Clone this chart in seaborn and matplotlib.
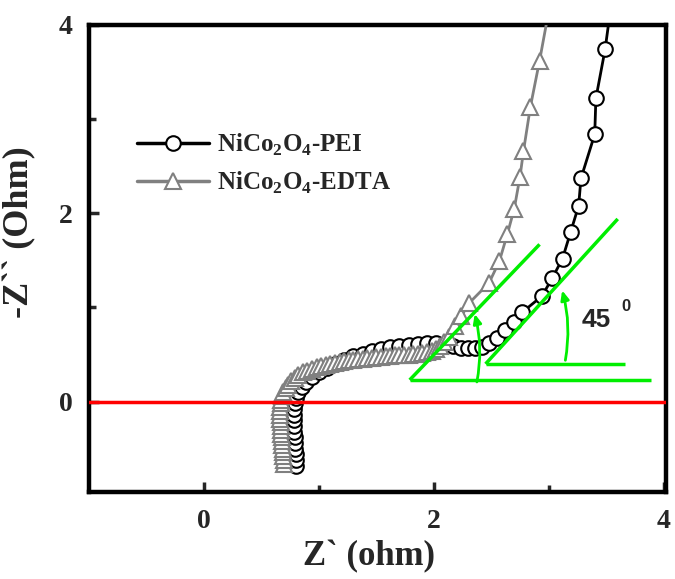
import matplotlib
matplotlib.use("Agg")
import matplotlib.pyplot as plt
from matplotlib.patches import FancyArrowPatch
from matplotlib.lines import Line2D
import seaborn as sns

# ---- data ----
pei_x = [0.80, 0.80, 0.80, 0.79, 0.79, 0.79, 0.78, 0.78, 0.78, 0.78,
         0.78, 0.79, 0.80, 0.82, 0.85, 0.89, 0.94, 1.00, 1.07, 1.14,
         1.22, 1.30, 1.38, 1.46, 1.54, 1.62, 1.70, 1.78, 1.86, 1.94,
         2.02, 2.10, 2.17, 2.24, 2.30, 2.36, 2.42, 2.48, 2.55, 2.62,
         2.70, 2.77, 2.94, 3.03, 3.12, 3.19, 3.26, 3.28, 3.40, 3.41,
         3.49, 3.53]
pei_y = [-0.68, -0.62, -0.56, -0.50, -0.44, -0.38, -0.32, -0.26, -0.20, -0.14,
         -0.08, -0.02, 0.04, 0.10, 0.16, 0.21, 0.26, 0.31, 0.36, 0.40,
         0.44, 0.48, 0.51, 0.54, 0.56, 0.58, 0.59, 0.60, 0.61, 0.62,
         0.62, 0.61, 0.59, 0.57, 0.57, 0.57, 0.58, 0.62, 0.68, 0.76,
         0.85, 0.95, 1.12, 1.31, 1.52, 1.80, 2.08, 2.37, 2.84, 3.22,
         3.74, 4.10]
edta_x = [0.70, 0.70, 0.69, 0.69, 0.69, 0.68, 0.68, 0.68, 0.67, 0.67,
          0.67, 0.67, 0.66, 0.66, 0.66, 0.66, 0.67, 0.67, 0.68, 0.69,
          0.71, 0.73, 0.76, 0.79, 0.82, 0.86, 0.90, 0.94, 0.98, 1.02,
          1.06, 1.10, 1.14, 1.18, 1.22, 1.26, 1.30, 1.34, 1.38, 1.42,
          1.46, 1.50, 1.54, 1.58, 1.62, 1.66, 1.70, 1.74, 1.78, 1.82,
          1.86, 1.90, 1.94, 1.98, 2.02, 2.05, 2.09, 2.13, 2.18, 2.24,
          2.31, 2.48, 2.57, 2.64, 2.70, 2.75, 2.78, 2.84, 2.92, 3.00]
edta_y = [-0.66, -0.62, -0.58, -0.54, -0.50, -0.46, -0.42, -0.38, -0.34, -0.30,
          -0.26, -0.22, -0.18, -0.14, -0.10, -0.06, -0.02, 0.02, 0.06, 0.10,
          0.14, 0.18, 0.22, 0.25, 0.28, 0.31, 0.33, 0.35, 0.37, 0.38,
          0.39, 0.40, 0.41, 0.42, 0.43, 0.44, 0.44, 0.45, 0.45, 0.46,
          0.46, 0.47, 0.47, 0.48, 0.48, 0.49, 0.49, 0.50, 0.50, 0.51,
          0.51, 0.52, 0.53, 0.54, 0.56, 0.59, 0.63, 0.69, 0.80, 0.91,
          1.05, 1.26, 1.49, 1.78, 2.05, 2.39, 2.66, 3.13, 3.62, 4.15]

series_labels = ["NiCo$_\\mathregular{2}$O$_\\mathregular{4}$-PEI",
                 "NiCo$_\\mathregular{2}$O$_\\mathregular{4}$-EDTA"]
x_ticks = [0, 2, 4]
y_ticks = [0, 2, 4]
x_minor = [1, 3]
y_minor = [1, 3]

# 45-degree guide lines (annotation)
guide1_x = [1.79, 2.92]; guide1_y = [0.23, 1.67]
base1_x = [1.79, 3.89];  base1_y = [0.23, 0.23]
guide2_x = [2.45, 3.60]; guide2_y = [0.40, 1.94]
base2_x = [2.45, 3.66];  base2_y = [0.40, 0.40]
arc1 = [(2.37, 0.18), (2.35, 0.96)]
arc2 = [(3.14, 0.41), (3.11, 1.21)]

sns.set_style("ticks")
plt.rcParams["font.family"] = ["Liberation Serif", "DejaVu Serif"]
plt.rcParams["font.weight"] = "bold"

fig = plt.figure(figsize=(6.75, 5.79), dpi=100)
ax = fig.add_axes([89/675, 1-492/579, (666-89)/675, (492-25)/579])

sns.lineplot(x=pei_x, y=pei_y, sort=False, estimator=None, ax=ax,
             color="black", linewidth=2, marker="o", markersize=10.5,
             markerfacecolor="white", markeredgecolor="black",
             markeredgewidth=1.5, zorder=3)
sns.lineplot(x=edta_x, y=edta_y, sort=False, estimator=None, ax=ax,
             color="#808080", linewidth=2, marker="^", markersize=11.5,
             markerfacecolor="white", markeredgecolor="#808080",
             markeredgewidth=1.5, zorder=4)

ax.axhline(0, color="#ff0000", linewidth=2.5, zorder=6)

g = "#00ee00"
for xs, ys in [(guide1_x, guide1_y), (base1_x, base1_y),
               (guide2_x, guide2_y), (base2_x, base2_y)]:
    ax.plot(xs, ys, color=g, linewidth=2.5, zorder=7, solid_capstyle="butt")
for (p0, p1) in [arc1, arc2]:
    arr = FancyArrowPatch(p0, p1, connectionstyle="arc3,rad=0.12",
                          arrowstyle="-|>,head_length=0.5,head_width=0.22",
                          mutation_scale=11, color=g, linewidth=2.0, zorder=7)
    ax.add_patch(arr)

ax.text(3.41, 0.87, "45", fontsize=19, fontweight="bold",
        family=["Liberation Sans", "DejaVu Sans"], ha="center", va="center", zorder=8)
ax.text(3.67, 1.01, "0", fontsize=12, fontweight="bold",
        family=["Liberation Sans", "DejaVu Sans"], ha="center", va="center", zorder=8)

ax.set_xlim(-1.0, 4.02)
ax.set_ylim(-0.96, 4.0)
ax.set_xticks(x_ticks)
ax.set_yticks(y_ticks)
ax.set_xticks(x_minor, minor=True)
ax.set_yticks(y_minor, minor=True)
ax.tick_params(which="both", direction="in", width=2.5, labelsize=20,
               top=False, right=False)
ax.tick_params(which="major", length=7, pad=12)
ax.tick_params(which="minor", length=5)
for lab in ax.get_xticklabels() + ax.get_yticklabels():
    lab.set_fontweight("bold")
for sp in ax.spines.values():
    sp.set_linewidth(3.2)
    sp.set_color("black")

ax.set_xlabel("Z` (ohm)", fontsize=25, fontweight="bold")
ax.xaxis.set_label_coords(0.485, -0.103, transform=ax.transAxes)
ax.xaxis.label.set_va("top")
ax.set_ylabel("-Z`` (Ohm)", fontsize=26, fontweight="bold")
ax.yaxis.set_label_coords(-0.092, 0.557)

handles = [Line2D([], [], color="black", linewidth=2.5, marker="o", markersize=10.5,
                  markerfacecolor="white", markeredgecolor="black", markeredgewidth=1.5),
           Line2D([], [], color="#808080", linewidth=2.5, marker="^", markersize=11.5,
                  markerfacecolor="white", markeredgecolor="#808080", markeredgewidth=1.5)]
leg = ax.legend(handles, series_labels, loc="upper left",
                bbox_to_anchor=(0.083, 0.772), frameon=False, borderpad=0,
                borderaxespad=0,
                prop={"family": ["Liberation Serif"], "weight": "bold", "size": 18},
                handlelength=2.9, handletextpad=0.3, labelspacing=0.5)

fig.savefig("out.png", dpi=100)
